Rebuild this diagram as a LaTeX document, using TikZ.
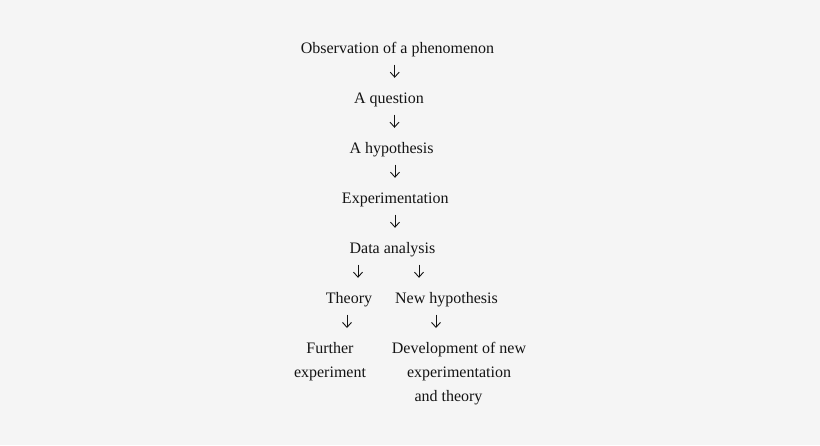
\documentclass[tikz,border=0pt]{standalone}
\usepackage{fontspec}
\setmainfont{Liberation Serif}
\usetikzlibrary{arrows.meta}
\definecolor{bgc}{RGB}{245,245,245}
\definecolor{txt}{RGB}{20,20,20}
\tikzset{
  lbl/.style={font=\fontsize{16pt}{24pt}\selectfont, text=txt, inner sep=0pt,
              text height=11pt, text depth=4pt, anchor=base},
  multi/.style={font=\fontsize{16pt}{24pt}\selectfont, text=txt, inner sep=0pt,
              align=center, anchor=north},
  arr/.style={draw=txt, line width=0.9pt, -{Straight Barb[length=5pt,width=9pt,line width=0.9pt]},
              shorten <=7.5pt, shorten >=14pt}
}
\begin{document}
\begin{tikzpicture}[x=1pt,y=-1pt]
\useasboundingbox (0,0) rectangle (820,445);
\fill[bgc] (0,0) rectangle (820,445);
\node[lbl] (obs) at (397.5,53) {Observation of a phenomenon};
\node[lbl] (q) at (389,103) {A question};
\node[lbl] (hyp) at (391.5,153) {A hypothesis};
\node[lbl] (exp) at (395.3,203) {Experimentation};
\node[lbl] (data) at (392.5,253) {Data analysis};
\node[lbl] (theory) at (349,303) {Theory};
\node[lbl] (newh) at (446.5,303) {New hypothesis};
\node[multi] (further) at (330,342) {Further\\experiment};
\node[multi] (dev) at (459,342) {Development of new\\experimentation\\and theory\hspace*{21pt}};
\draw[arr] (obs.south -| 394.7,0) -- (q.north -| 394.7,0);
\draw[arr] (q.south -| 394.5,0) -- (hyp.north -| 394.5,0);
\draw[arr] (hyp.south -| 395,0) -- (exp.north -| 395,0);
\draw[arr] (exp.south -| 395,0) -- (data.north -| 395,0);
\draw[arr] (data.south -| 358,0) -- (theory.north -| 358,0);
\draw[arr] (data.south -| 419,0) -- (newh.north -| 419,0);
\draw[arr] (theory.south -| 347,0) -- (further.north -| 347,0);
\draw[arr] (newh.south -| 436,0) -- (dev.north -| 436,0);
\end{tikzpicture}
\end{document}
